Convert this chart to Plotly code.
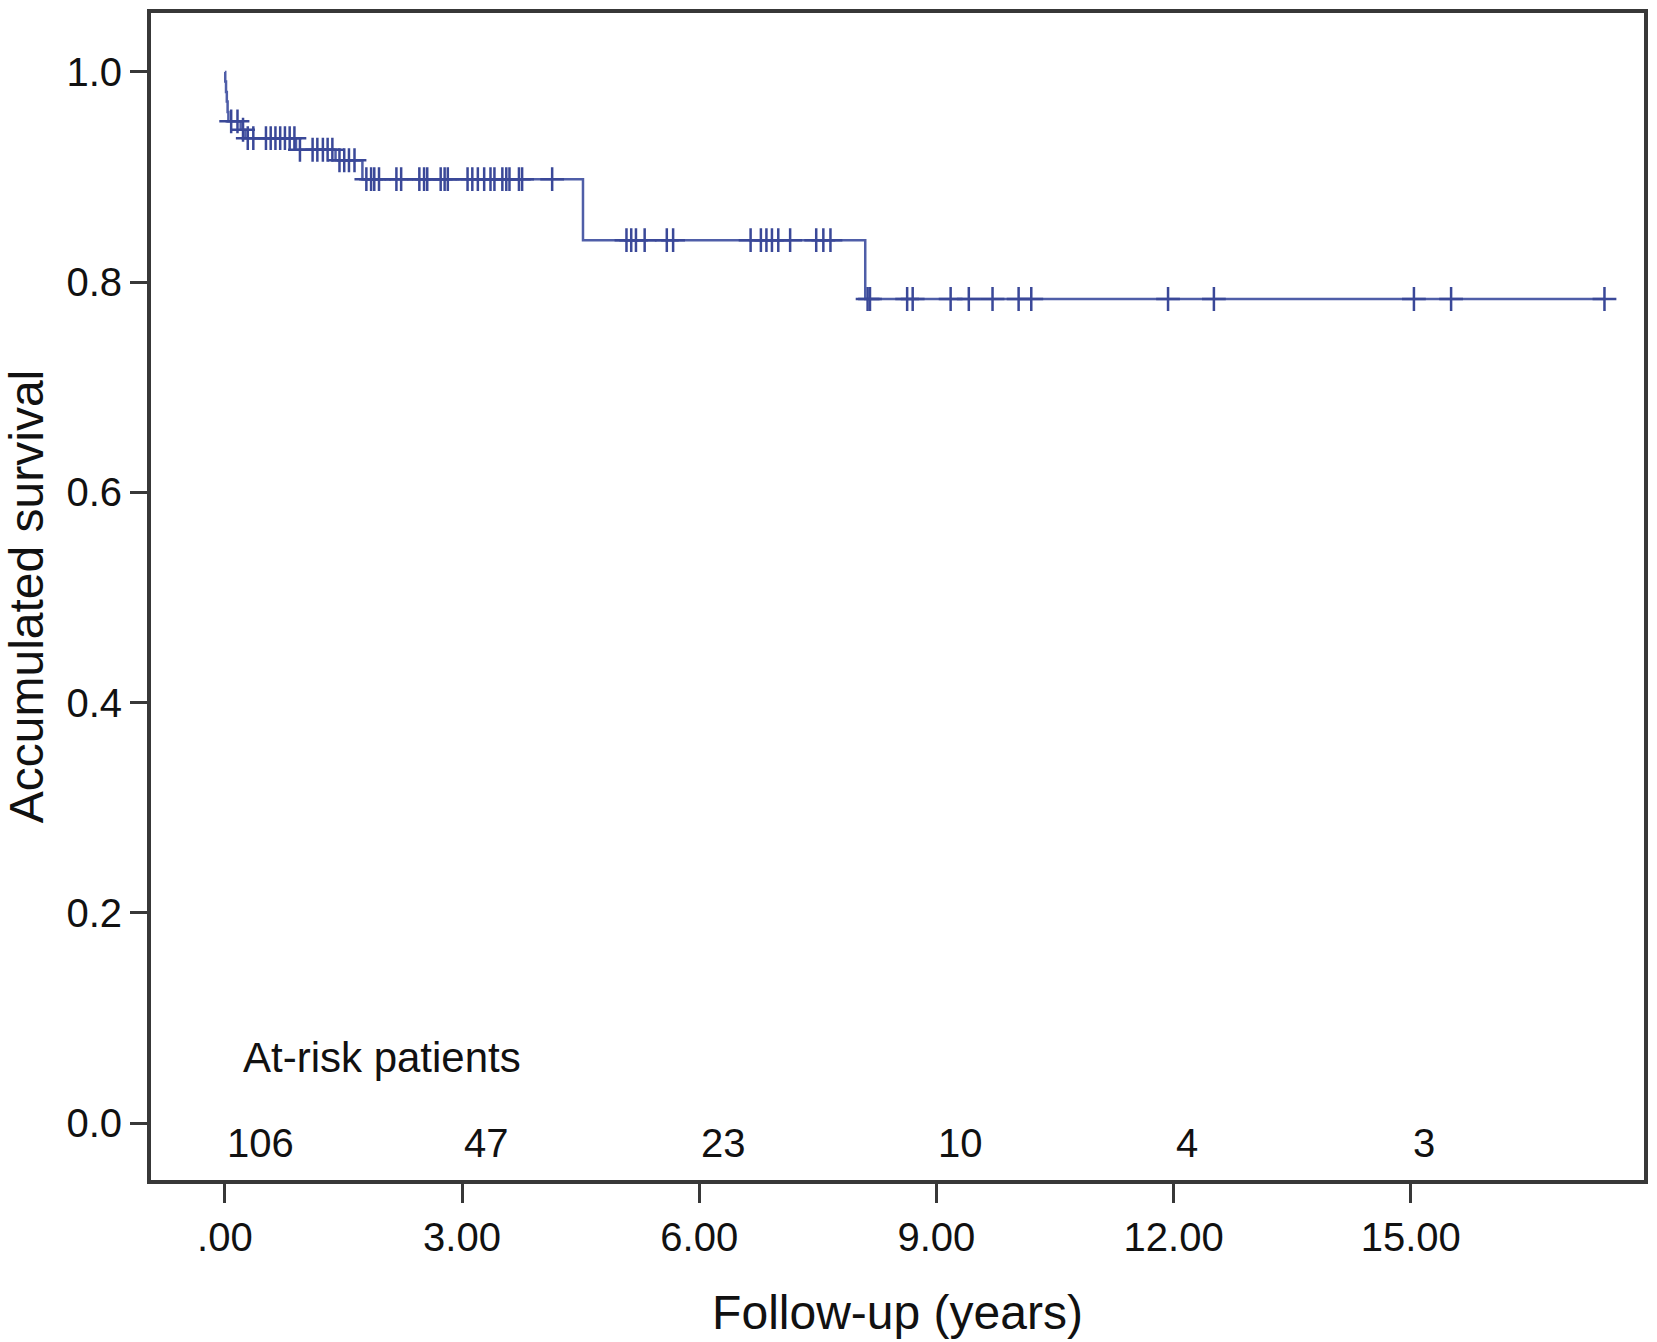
import numpy as np
import plotly.graph_objects as go

# ---- Data (Kaplan-Meier) ----
event_times = [0.0, 0.005, 0.015, 0.025, 0.035, 0.045, 0.20, 0.26, 0.90, 1.40, 1.74, 4.53, 8.10]
event_surv = [1.0, 0.991, 0.981, 0.972, 0.962, 0.953, 0.945, 0.937, 0.926, 0.916, 0.898, 0.840, 0.784]

censor_times = [
    0.08, 0.16, 0.23,
    0.29, 0.36, 0.52, 0.58, 0.64, 0.70, 0.76, 0.82, 0.88,
    0.95, 1.11, 1.17, 1.24, 1.30, 1.36,
    1.45, 1.51, 1.57, 1.64,
    1.79, 1.85, 1.89, 1.95, 2.17, 2.23, 2.46, 2.52, 2.56, 2.73, 2.78, 2.82,
    3.07, 3.13, 3.20, 3.28, 3.36, 3.41, 3.51, 3.56, 3.60, 3.72, 3.76, 4.14,
    5.08, 5.14, 5.20, 5.31, 5.59, 5.67, 6.65, 6.78, 6.85, 6.92, 7.00, 7.15,
    7.48, 7.57, 7.66,
    8.13, 8.16, 8.63, 8.70, 9.18, 9.41, 9.71, 10.04, 10.20, 11.93, 12.51,
    15.04, 15.51, 17.45,
]

risk_times = [0, 3, 6, 9, 12, 15]
risk_counts = [106, 47, 23, 10, 4, 3]

x_ticks = [0, 3, 6, 9, 12, 15]
x_tick_labels = [".00", "3.00", "6.00", "9.00", "12.00", "15.00"]
y_ticks = [0.0, 0.2, 0.4, 0.6, 0.8, 1.0]
y_tick_labels = ["0.0", "0.2", "0.4", "0.6", "0.8", "1.0"]

# ---- Build step curve ----
end_time = max(censor_times)
step_x = list(event_times) + [end_time]
step_y = list(event_surv) + [event_surv[-1]]

et = np.array(event_times)
es = np.array(event_surv)
censor_surv = [float(es[np.searchsorted(et, t, side="right") - 1]) for t in censor_times]

FONT = "Liberation Sans, Arial, Helvetica, sans-serif"
LINE_C = "#4f5ea8"
MARK_C = "#3a4898"
FRAME_C = "#383838"
TEXT_C = "#111111"

fig = go.Figure()
fig.add_trace(go.Scatter(
    x=step_x, y=step_y, mode="lines",
    line=dict(shape="hv", color=LINE_C, width=2.5),
    hoverinfo="skip", showlegend=False,
))
fig.add_trace(go.Scatter(
    x=censor_times, y=censor_surv, mode="markers",
    marker=dict(symbol="cross-thin", size=17, line=dict(color=MARK_C, width=2.5)),
    showlegend=False,
))

fig.add_annotation(
    x=0.20, y=0.062, xref="x", yref="y", text="At-risk patients",
    showarrow=False, xanchor="left", yanchor="middle",
    font=dict(family=FONT, size=42, color=TEXT_C),
)
for t, n in zip(risk_times, risk_counts):
    fig.add_annotation(
        x=t, y=-0.019, xref="x", yref="y", text=str(n),
        showarrow=False, xanchor="left", yanchor="middle", xshift=0,
        font=dict(family=FONT, size=40, color=TEXT_C),
    )

fig.update_layout(
    width=1657, height=1342,
    margin=dict(l=151, r=9, t=13, b=162),
    paper_bgcolor="white", plot_bgcolor="white",
    font=dict(family=FONT, size=40, color=TEXT_C),
)
fig.update_xaxes(
    range=[-0.934, 17.95],
    tickvals=x_ticks, ticktext=x_tick_labels,
    ticks="outside", ticklen=19, tickwidth=3, tickcolor=FRAME_C,
    showline=True, linecolor=FRAME_C, linewidth=4, mirror=True,
    showgrid=False, zeroline=False,
    tickfont=dict(family=FONT, size=40, color=TEXT_C),
    title=dict(text="Follow-up (years)", font=dict(family=FONT, size=48, color=TEXT_C), standoff=38),
)
fig.update_yaxes(
    range=[-0.0542, 1.0561],
    tickvals=y_ticks, ticktext=y_tick_labels,
    ticks="outside", ticklen=17, tickwidth=3, tickcolor=FRAME_C,
    showline=True, linecolor=FRAME_C, linewidth=4, mirror=True,
    showgrid=False, zeroline=False,
    tickfont=dict(family=FONT, size=40, color=TEXT_C),
    title=dict(text="Accumulated survival", font=dict(family=FONT, size=48, color=TEXT_C), standoff=14),
)

fig.write_html(
    "out.html",
    config={"displayModeBar": False},
    post_script="document.body.style.margin='0px';",
)
